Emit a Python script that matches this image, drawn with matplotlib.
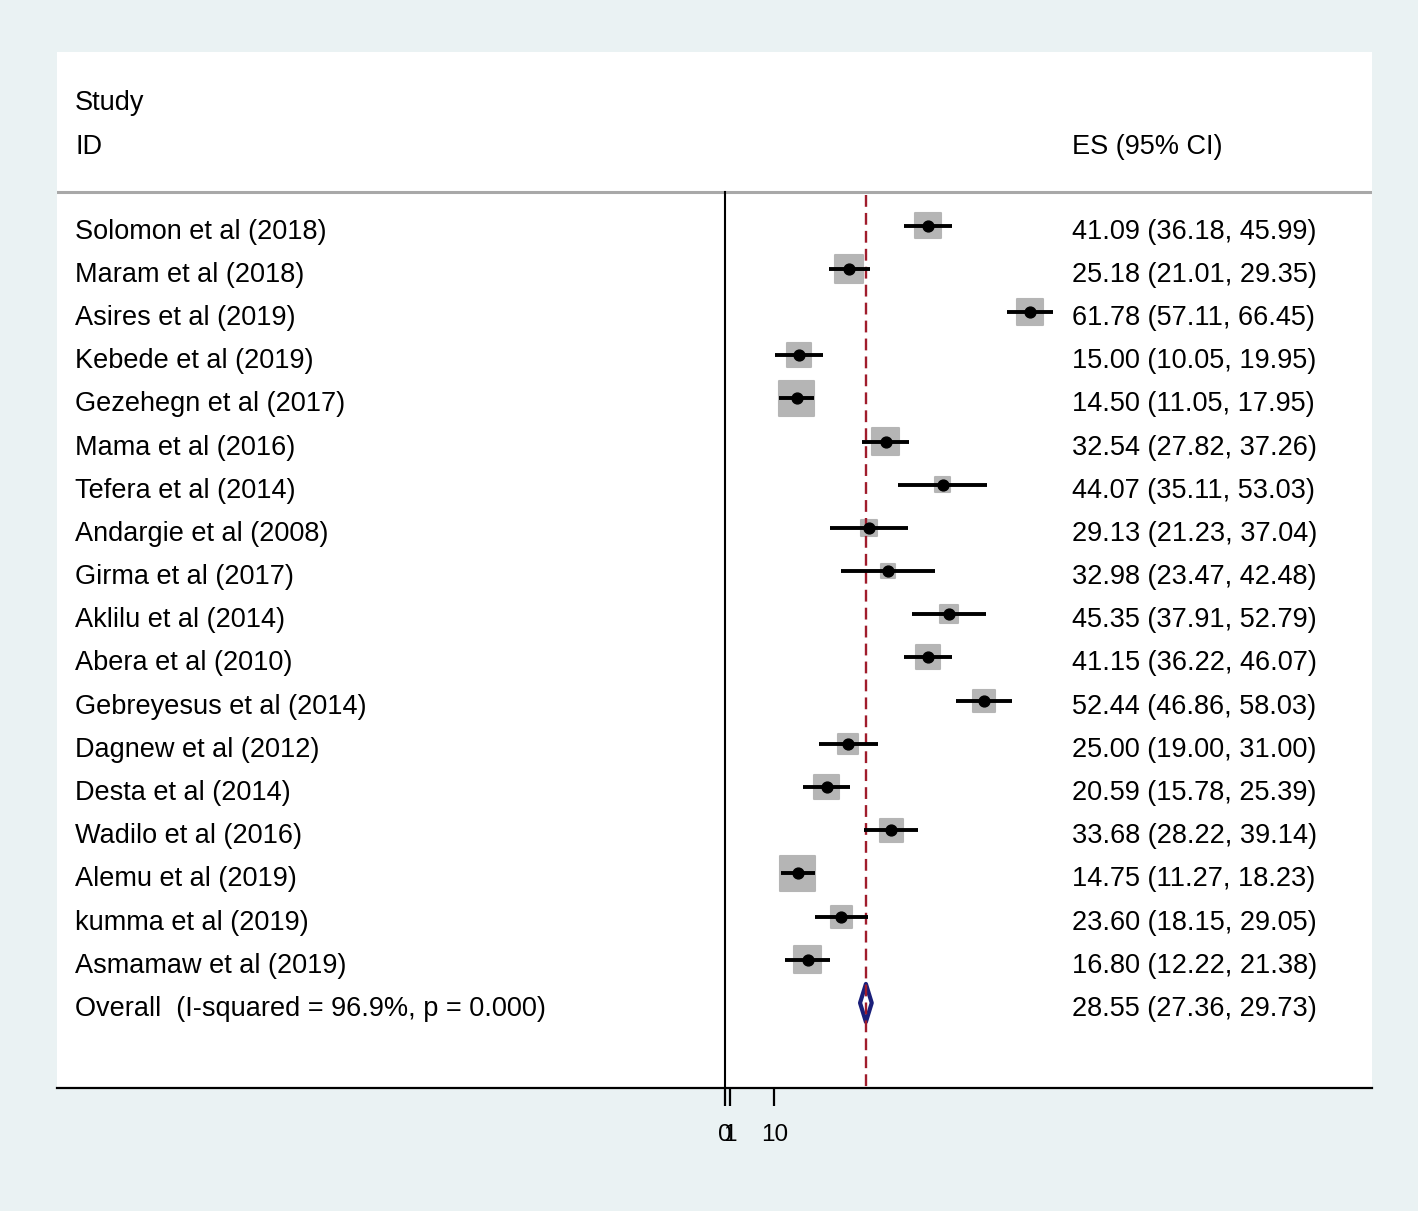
import matplotlib
matplotlib.use('Agg')
import matplotlib.pyplot as plt
import matplotlib.transforms as mtransforms
from matplotlib.patches import Polygon
import numpy as np

# ---------------- data ----------------
studies = ["Solomon et al (2018)", "Maram et al (2018)", "Asires et al (2019)",
           "Kebede et al (2019)", "Gezehegn et al (2017)", "Mama et al (2016)",
           "Tefera et al (2014)", "Andargie et al (2008)", "Girma et al (2017)",
           "Aklilu et al (2014)", "Abera et al (2010)", "Gebreyesus et al (2014)",
           "Dagnew et al (2012)", "Desta et al (2014)", "Wadilo et al (2016)",
           "Alemu et al (2019)", "kumma et al (2019)", "Asmamaw et al (2019)"]
es = [41.09, 25.18, 61.78, 15.00, 14.50, 32.54, 44.07, 29.13, 32.98,
      45.35, 41.15, 52.44, 25.00, 20.59, 33.68, 14.75, 23.60, 16.80]
lo = [36.18, 21.01, 57.11, 10.05, 11.05, 27.82, 35.11, 21.23, 23.47,
      37.91, 36.22, 46.86, 19.00, 15.78, 28.22, 11.27, 18.15, 12.22]
hi = [45.99, 29.35, 66.45, 19.95, 17.95, 37.26, 53.03, 37.04, 42.48,
      52.79, 46.07, 58.03, 31.00, 25.39, 39.14, 18.23, 29.05, 21.38]
# approximate study weights (%)
weights = [6.14, 7.21, 6.28, 5.42, 10.97, 6.74, 2.32, 2.60, 2.05,
           3.20, 5.42, 4.61, 3.88, 5.84, 5.01, 10.97, 4.61, 6.74]
overall_label = "Overall  (I-squared = 96.9%, p = 0.000)"
overall_es, overall_lo, overall_hi = 28.55, 27.36, 29.73
xticks = [0, 1, 10]
xticklabels = ["0", "1", "10"]

# ---------------- style ----------------
plt.rcParams['font.family'] = ['Liberation Sans', 'DejaVu Sans']
BG = '#eaf2f3'
BOX = '#b5b5b5'
RED = '#a01c2c'
NAVY = '#1a1f7a'
FS = 19.5

fig = plt.figure(figsize=(14.18, 12.11), dpi=100, facecolor=BG)
W, H = 1418, 1211
ax = fig.add_axes([57 / W, 1 - 1088 / H, 1315 / W, 1036 / H])
ax.set_facecolor('white')

n = len(studies)
rows = np.arange(n)
orow = n  # overall row

ax.set_xlim(-135.2, 131.0)
ax.set_ylim(19.97, -4.02)

# header separator
ax.axhline(-0.78, color='#a8a8a8', lw=2.2, zorder=1)
# null line
ax.plot([0, 0], [-0.78, 19.97], color='black', lw=1.5, zorder=1)
# overall effect dashed line
ax.plot([overall_es, overall_es], [-0.72, 19.97], color=RED, lw=1.7,
        dashes=(5, 2.6), zorder=4)

# weight boxes
side_px = 11.17 * np.sqrt(np.array(weights))
side_pt = side_px * 0.72
edge = 1.5
coll = ax.scatter(es, rows, marker='s', s=(side_pt - edge) ** 2, facecolor=BOX,
                  edgecolor=BOX, linewidths=edge, zorder=3)
coll.set_joinstyle('round')

# confidence intervals and point estimates
ax.hlines(rows, lo, hi, color='black', lw=2.8, zorder=5)
ax.plot(es, rows, 'o', color='black', ms=7.8, zorder=6)

# overall diamond
dh = 0.44
diamond = Polygon([(overall_lo, orow), (overall_es, orow - dh),
                   (overall_hi, orow), (overall_es, orow + dh)],
                  closed=True, facecolor='white', edgecolor=NAVY, lw=3.0,
                  joinstyle='round', zorder=3)
ax.add_patch(diamond)

# texts
tr = mtransforms.blended_transform_factory(ax.transAxes, ax.transData)
xl, xr = 0.0137, 0.7719
dy = 0.14
ax.text(xl, -2.91 + dy - 0.07, "Study", transform=tr, fontsize=FS, va='center', ha='left')
ax.text(xl, -1.89 + dy - 0.07, "ID", transform=tr, fontsize=FS, va='center', ha='left')
ax.text(xr, -1.89 + dy - 0.07, "ES (95% CI)", transform=tr, fontsize=FS, va='center', ha='left')
for r, name, e, l, h in zip(rows, studies, es, lo, hi):
    ax.text(xl, r + dy, name, transform=tr, fontsize=FS, va='center', ha='left')
    ax.text(xr, r + dy, f"{e:.2f} ({l:.2f}, {h:.2f})", transform=tr,
            fontsize=FS, va='center', ha='left')
ax.text(xl, orow + dy, overall_label, transform=tr, fontsize=FS, va='center', ha='left')
ax.text(xr, orow + dy, f"{overall_es:.2f} ({overall_lo:.2f}, {overall_hi:.2f})",
        transform=tr, fontsize=FS, va='center', ha='left')

# axes
for s in ['top', 'left', 'right']:
    ax.spines[s].set_visible(False)
ax.spines['bottom'].set_color('black')
ax.spines['bottom'].set_linewidth(1.6)
ax.set_yticks([])
ax.set_xticks(xticks)
ax.set_xticklabels(xticklabels)
ax.tick_params(axis='x', direction='out', length=13, width=1.6, pad=13,
               labelsize=17.5, colors='black')

fig.savefig('out.png', dpi=100, facecolor=BG)
